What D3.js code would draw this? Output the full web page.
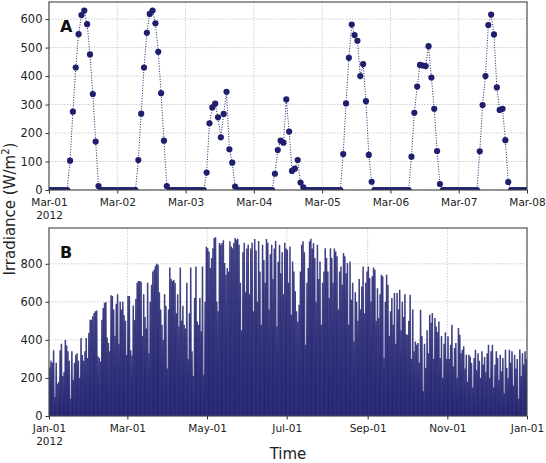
<!DOCTYPE html>
<html>
<head>
<meta charset="utf-8">
<script src="https://d3js.org/d3.v7.min.js"></script>
<style>
body { margin: 0; background: #fff; }
text { font-family: "DejaVu Sans", sans-serif; }
.grid line { stroke: #b8b8b8; stroke-opacity: 0.7; stroke-dasharray: 1.5,1.5; }
.axis text { font-size: 11.5px; fill: #222; font-family: "DejaVu Sans", sans-serif; }
.xaxis text { font-size: 10.5px; }
.axis path, .axis line { stroke: #333; }
</style>
</head>
<body>
<svg id="chart" width="546" height="463"></svg>
<script>
// Panel A: hourly irradiance, 1-7 March 2012
var day1 = [0,0,0,0,0,0,0,103,275,430,547,614,630,582,476,337,170,14,0,0,0,0,0,0];
var day2 = [0,0,0,0,0,0,0,105,268,430,552,618,630,585,485,340,173,14,0,0,0,0,0,0];
var day3 = [0,0,0,0,0,0,0,61,234,290,303,255,185,267,345,143,96,12,0,0,0,0,0,0];
var day4 = [0,0,0,0,0,0,0,57,140,173,166,318,205,67,75,105,26,9,0,0,0,0,0,0];
var day5 = [0,0,0,0,0,0,0,126,304,464,581,544,524,400,442,312,123,29,0,0,0,0,0,0];
var day6 = [0,0,0,0,0,0,0,117,271,363,439,437,435,505,395,285,137,21,0,0,0,0,0,0];
var day7 = [0,0,0,0,0,0,0,136,298,400,579,616,546,360,281,285,175,28,0,0,0,0,0,0];
var marchDays = [day1, day2, day3, day4, day5, day6, day7];

// Panel B: daily peak irradiance for each month of 2012
var jan = [255,290,280,345,100,280,170,180,345,380,210,230,400,370,340,290,90,340,190,280,320,330,290,200,410,320,290,340,410,305,436];
var feb = [506,506,524,541,550,555,313,305,287,506,567,594,599,413,383,340,634,630,560,420,590,640,380,600,560,600,530,500,320];
var mar = marchDays.map(function(d){ return d3.max(d); })
  .concat([700,710,710,705,420,640,520,460,700,330,600,690,760,770,790,800,795,650,560,480,400,640,580,250]);
var apr = [560,780,720,710,715,700,540,640,470,780,500,580,480,460,700,300,540,780,340,210,620,786,497,480,620,445,786,217,600,890];
var may = [882,865,778,830,882,935,940,600,550,909,900,909,923,804,742,778,760,918,891,882,909,935,926,932,900,700,450,860,910,650,880];
var jun = [900,640,880,910,550,930,870,600,920,760,480,900,820,700,930,910,560,850,900,720,880,920,470,810,900,750,860,640,910,880];
var jul = [874,700,891,532,812,760,655,550,497,585,760,900,918,860,375,700,778,918,932,880,909,830,600,900,720,812,480,700,760,882,830];
var aug = [760,620,882,830,700,880,865,839,560,760,786,690,856,839,750,804,480,812,611,700,392,650,600,500,720,560,680,786,540,700,760];
var sep = [786,725,600,734,781,769,500,672,515,640,742,734,305,600,742,690,420,550,620,480,646,380,646,560,663,450,600,520,640,430];
var oct = [427,500,637,300,560,340,392,375,383,280,559,420,130,380,252,450,330,532,490,541,300,515,470,440,497,305,420,200,380,440,300];
var nov = [419,300,375,480,260,357,383,200,462,427,330,348,366,250,322,180,322,313,280,150,305,348,240,330,290,200,340,270,310,230];
var dec = [330,375,200,340,375,150,270,340,305,190,322,235,305,120,348,252,200,348,280,340,160,322,250,300,90,350,210,330,270,340,300];
var yearMonths = [jan, feb, mar, apr, may, jun, jul, aug, sep, oct, nov, dec];

var ticksA = [0, 100, 200, 300, 400, 500, 600];
var ticksB = [0, 200, 400, 600, 800];

var color = "#1f1f6e";
var left = 49, right = 527;
var svg = d3.select("#chart");
var fmt = d3.utcFormat("%b-%d");
var HOUR = 3600 * 1000;

function drawFrame(g, x, y, yTicks, xTicks, top, bottom, letter) {
  g.append("g").attr("class", "grid")
    .selectAll("line.h").data(yTicks).enter().append("line")
    .attr("x1", left).attr("x2", right)
    .attr("y1", function(d){ return y(d); }).attr("y2", function(d){ return y(d); });
  g.append("g").attr("class", "grid")
    .selectAll("line.v").data(xTicks).enter().append("line")
    .attr("y1", top).attr("y2", bottom)
    .attr("x1", function(d){ return x(d); }).attr("x2", function(d){ return x(d); });

  var yAxis = d3.axisLeft(y).tickValues(yTicks).tickSizeOuter(0).tickSize(3.5).tickPadding(3);
  g.append("g").attr("class", "axis").attr("transform", "translate(" + left + ",0)").call(yAxis)
    .select(".domain").remove();

  var xAxis = d3.axisBottom(x).tickValues(xTicks).tickSizeOuter(0).tickSize(3.5).tickPadding(5)
    .tickFormat(function(d){ return fmt(d); });
  var xa = g.append("g").attr("class", "axis xaxis").attr("transform", "translate(0," + bottom + ")").call(xAxis);
  xa.select(".domain").remove();
  xa.selectAll(".tick").filter(function(d, i){ return i === 0; }).append("text")
    .attr("y", 21.5).attr("dy", "0.71em").attr("fill", "#222")
    .text("2012");

  g.append("text").attr("class", "letter").attr("x", left + 11).attr("y", top + 30)
    .style("font-size", "16px").style("font-weight", "bold").attr("fill", "#111")
    .text(letter);
}

function border(g, top, bottom) {
  g.append("rect").attr("x", left).attr("y", top).attr("width", right - left).attr("height", bottom - top)
    .attr("fill", "none").attr("stroke", "#444").attr("stroke-width", 1.1);
}

// ---------- Panel A ----------
var topA = 2, bottomA = 190;
var start = Date.UTC(2012, 2, 1);
var hourly = [];
marchDays.forEach(function(day, di){
  day.forEach(function(v, h){
    hourly.push({ t: new Date(start + (di * 24 + h + 0.4) * HOUR), v: v });
  });
});
var xA = d3.scaleUtc().domain([new Date(start), new Date(Date.UTC(2012, 2, 8))]).range([left, right]);
var yA = d3.scaleLinear().domain([0, 660]).range([bottomA, topA]);
var gA = svg.append("g");
drawFrame(gA, xA, yA, ticksA, d3.utcDay.range(new Date(start), new Date(Date.UTC(2012, 2, 9))), topA, bottomA, "A");

svg.append("clipPath").attr("id", "clipA").append("rect")
  .attr("x", left).attr("y", topA).attr("width", right - left).attr("height", bottomA - topA);
var plotA = gA.append("g").attr("clip-path", "url(#clipA)");
plotA.append("path").datum(hourly)
  .attr("d", d3.line().x(function(d){ return xA(d.t); }).y(function(d){ return yA(d.v); }))
  .attr("fill", "none").attr("stroke", color).attr("stroke-width", 1)
  .attr("stroke-dasharray", "1,1.6");
plotA.selectAll("circle").data(hourly).enter().append("circle")
  .attr("cx", function(d){ return xA(d.t); })
  .attr("cy", function(d){ return yA(d.v); })
  .attr("r", 3.1).attr("fill", color);
gA.select("text.letter").raise();
border(gA, topA, bottomA);

// ---------- Panel B ----------
var topB = 228, bottomB = 416;
var yStart = Date.UTC(2012, 0, 1);
var daily = [];
yearMonths.forEach(function(m){ m.forEach(function(v){ daily.push(v); }); });
var xB = d3.scaleUtc().domain([new Date(yStart), new Date(Date.UTC(2013, 0, 1))]).range([left, right]);
var yB = d3.scaleLinear().domain([0, 988]).range([bottomB, topB]);
var gB = svg.append("g");
drawFrame(gB, xB, yB, ticksB, d3.utcMonth.every(2).range(new Date(yStart), new Date(Date.UTC(2013, 0, 2))), topB, bottomB, "B");

svg.append("clipPath").attr("id", "clipB").append("rect")
  .attr("x", left).attr("y", topB).attr("width", right - left).attr("height", bottomB - topB);
var plotB = gB.append("g").attr("clip-path", "url(#clipB)");
var spike = d3.line().x(function(d){ return xB(d[0]); }).y(function(d){ return yB(d[1]); });
plotB.selectAll("path").data(daily).enter().append("path")
  .attr("d", function(v, i){
    var d0 = yStart + i * 24 * HOUR;
    return spike([[new Date(d0 + 4 * HOUR), 0], [new Date(d0 + 12.4 * HOUR), v], [new Date(d0 + 21 * HOUR), 0]]);
  })
  .attr("fill", "none").attr("stroke", color).attr("stroke-width", 1.5).attr("stroke-opacity", 0.85);
gB.select("text.letter").raise();
border(gB, topB, bottomB);

// ---------- shared labels ----------
svg.append("text").attr("transform", "translate(15," + ((topA + bottomB) / 2) + ") rotate(-90)")
  .attr("text-anchor", "middle").style("font-size", "15px").attr("fill", "#222")
  .html("Irradiance (W/m<tspan dy='-6' style='font-size:10px'>2</tspan><tspan dy='6'>)</tspan>");
svg.append("text").attr("x", (left + right) / 2).attr("y", 459)
  .attr("text-anchor", "middle").style("font-size", "15px").attr("fill", "#222")
  .text("Time");
</script>
</body>
</html>
